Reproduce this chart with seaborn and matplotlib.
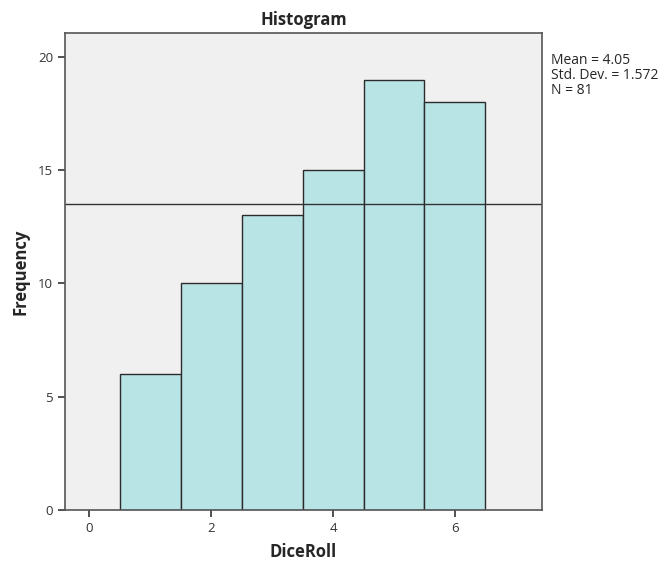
import numpy as np
import matplotlib
matplotlib.use("Agg")
import matplotlib.pyplot as plt
import seaborn as sns

# dice roll frequencies
faces = [1, 2, 3, 4, 5, 6]
counts = [6, 10, 13, 15, 19, 18]
x_ticks = [0, 2, 4, 6]
y_ticks = [0, 5, 10, 15, 20]

sns.set_style("white")
plt.rcParams['font.family'] = ['Open Sans', 'DejaVu Sans']

fig = plt.figure(figsize=(6.58, 5.62), dpi=100)
ax = fig.add_axes([0.0988, 0.0925, 0.725, 0.849])
ax.set_facecolor("#f0f0f0")

sns.histplot(x=faces, weights=counts, discrete=True, ax=ax,
             color="#b9e4e6", alpha=1, edgecolor="#2b2b2b", linewidth=1)

n = sum(counts)
vals = np.array(faces)
w = np.array(counts)
mean = (vals * w).sum() / n
sd = np.sqrt(((vals - mean) ** 2 * w).sum() / (n - 1))

# expected count line
ax.axhline(n / len(faces), color="#333333", linewidth=1)

ax.set_xlim(-0.4, 7.43)
ax.set_ylim(0, 21.06)
ax.set_xticks(x_ticks)
ax.set_yticks(y_ticks)
ax.tick_params(axis="both", direction="out", length=5, width=1.2,
               colors="#333333", labelsize=9.5, bottom=True, left=True)
for s in ax.spines.values():
    s.set_color("#555555")
    s.set_linewidth(1.2)

ax.set_title("Histogram", fontsize=12, fontweight="bold", pad=6)
ax.set_xlabel("DiceRoll", fontsize=12, fontweight="bold", labelpad=6)
ax.set_ylabel("Frequency", fontsize=12, fontweight="bold", labelpad=6)

fig.text(0.837, 0.905, f"Mean = {mean:.2f}\nStd. Dev. = {sd:.3f}\nN = {n}",
         fontsize=10, va="top", ha="left", linespacing=1.0)

fig.savefig("out.png", dpi=100)
